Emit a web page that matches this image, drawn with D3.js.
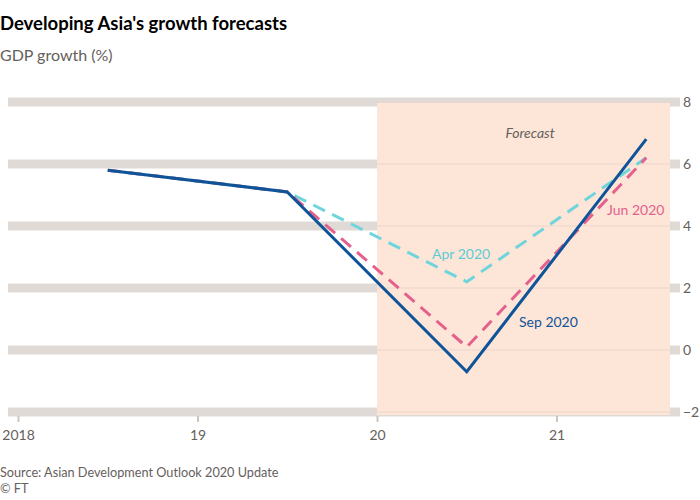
<!DOCTYPE html>
<html>
<head>
<meta charset="utf-8">
<script src="https://cdn.jsdelivr.net/npm/d3@7"></script>
<style>
  body { margin: 0; background: #fff; }
  svg { font-family: Lato, "Noto Sans", sans-serif; }
</style>
</head>
<body>
<svg id="chart" width="700" height="500"></svg>
<script>
// growth outlook, % a year; annual points plotted mid-year
const years = [2018, 2019, 2020, 2021]
const tickLabels = ["2018", "19", "20", "21"]
const yTicks = [8, 6, 4, 2, 0, -2]
const apr2020 = [5.8, 5.1, 2.2, 6.2]
const jun2020 = [5.8, 5.1, 0.1, 6.2]
const sep2020 = [5.8, 5.1, -0.7, 6.8]
const forecastFrom = 2020

const series = [
  {name: "Apr 2020", values: apr2020, color: "#6fd4dc", dash: "13,8"},
  {name: "Jun 2020", values: jun2020, color: "#e5608d", dash: "13,8"},
  {name: "Sep 2020", values: sep2020, color: "#0f5499", dash: null}
]

const svg = d3.select("#chart")
const gridLeft = 8, gridRight = 680, plotRight = 670

const x = d3.scaleLinear().domain([2018, 2022]).range([18, 736])
const y = d3.scaleLinear().domain([-2, 8]).range([412, 102])

// title block
svg.append("text").attr("x", 0).attr("y", 30)
  .attr("font-size", 18.5).attr("font-weight", "bold").attr("fill", "#000")
  .text("Developing Asia's growth forecasts")
svg.append("text").attr("x", 0).attr("y", 61)
  .attr("font-size", 16).attr("fill", "#66605c")
  .text("GDP growth (%)")

// thick grid bands
svg.append("g").selectAll("line")
  .data(yTicks)
  .join("line")
  .attr("x1", gridLeft).attr("x2", gridRight)
  .attr("y1", d => y(d)).attr("y2", d => y(d))
  .attr("stroke", "#dfdad6").attr("stroke-width", 9)

// forecast shading
svg.append("rect")
  .attr("x", x(forecastFrom)).attr("y", y(8) + 1)
  .attr("width", plotRight - x(forecastFrom))
  .attr("height", y(-2) - y(8) + 2)
  .attr("fill", "#fde6d8")

svg.append("g").selectAll("line")
  .data(yTicks)
  .join("line")
  .attr("x1", x(forecastFrom)).attr("x2", plotRight)
  .attr("y1", d => y(d)).attr("y2", d => y(d))
  .attr("stroke", "#ead6c9").attr("stroke-width", 1.2)

svg.append("text")
  .attr("x", 530).attr("y", 138)
  .attr("text-anchor", "middle").attr("font-size", 14)
  .attr("font-style", "italic").attr("fill", "#66605c")
  .text("Forecast")

// right hand value labels
svg.append("g").selectAll("text")
  .data(yTicks)
  .join("text")
  .attr("x", 683).attr("y", d => y(d) + 5)
  .attr("font-size", 14).attr("fill", "#66605c")
  .text(d => d < 0 ? "\u2212" + Math.abs(d) : d)

// x axis ticks
const xAxis = svg.append("g")
  .attr("transform", `translate(0,${y(-2) + 4})`)
  .call(d3.axisBottom(x)
    .tickValues(years)
    .tickSize(6)
    .tickFormat((d, i) => tickLabels[i]))
xAxis.select(".domain").remove()
xAxis.selectAll(".tick line").attr("stroke", "#ccc6c1").attr("stroke-width", 2)
xAxis.selectAll(".tick text")
  .attr("font-size", 14).attr("fill", "#66605c")
  .attr("font-family", "Lato, 'Noto Sans', sans-serif")
  .attr("dy", "1.05em")

// lines
const line = d3.line()
  .x((d, i) => x(years[i] + 0.5))
  .y(d => y(d))

svg.append("g").selectAll("path")
  .data(series)
  .join("path")
  .attr("d", d => line(d.values))
  .attr("fill", "none")
  .attr("stroke", d => d.color)
  .attr("stroke-width", 3)
  .attr("stroke-dasharray", d => d.dash)

// line labels
const labelPos = {"Apr 2020": [432, 259], "Jun 2020": [607, 215], "Sep 2020": [519, 327]}
svg.append("g").selectAll("text")
  .data(series)
  .join("text")
  .attr("x", d => labelPos[d.name][0])
  .attr("y", d => labelPos[d.name][1])
  .attr("font-size", 14)
  .attr("fill", d => d.name === "Apr 2020" ? "#5ccbd4" : d.color)
  .text(d => d.name)

// footer
svg.append("text").attr("x", 0).attr("y", 477)
  .attr("font-size", 12.7).attr("fill", "#66605c")
  .text("Source: Asian Development Outlook 2020 Update")
svg.append("text").attr("x", 0).attr("y", 493)
  .attr("font-size", 12.7).attr("fill", "#66605c")
  .text("© FT")
</script>
</body>
</html>
